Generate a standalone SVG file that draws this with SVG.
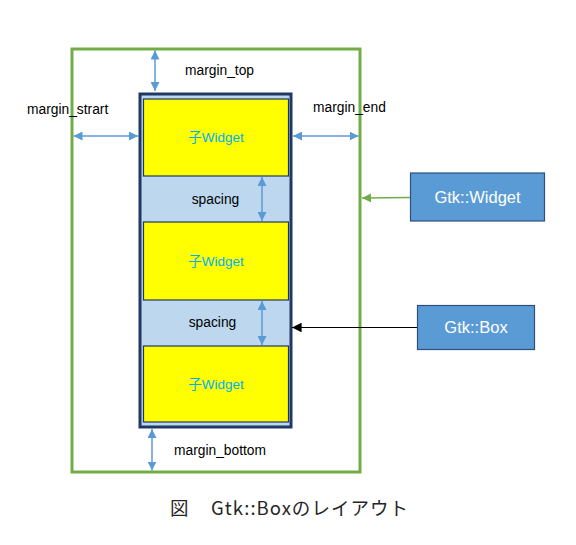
<svg xmlns="http://www.w3.org/2000/svg" width="576" height="545" viewBox="0 0 576 545">
<style>
.lbl{font-family:"Liberation Sans","Noto Sans CJK JP",sans-serif;font-size:13.8px;fill:#000}
.child{fill:#FFFF00;stroke:#203864;stroke-width:1.2}
.ctext{font-family:"Liberation Sans","Noto Sans CJK JP",sans-serif;font-size:13.5px;fill:#00B0F0;text-anchor:middle}
.cls{fill:#5B9BD5;stroke:#2F4F7F;stroke-width:1.2}
.clstext{font-family:"Liberation Sans",sans-serif;font-size:16.5px;fill:#fff;text-anchor:middle}
.dim{stroke:#5B9BD5;stroke-width:1.5;fill:none;marker-start:url(#ab);marker-end:url(#ab)}
.cap{font-family:"Noto Sans CJK JP",sans-serif;font-size:18.5px;fill:#262626}
</style>
<defs>
<marker id="ab" viewBox="0 0 10 10" refX="10" refY="5" markerWidth="6" markerHeight="6" orient="auto-start-reverse" markerUnits="strokeWidth">
<path d="M0,0 L10,5 L0,10 z" fill="#5B9BD5"/>
</marker>
<marker id="ag" viewBox="0 0 10 10" refX="10" refY="5" markerWidth="6" markerHeight="6" orient="auto" markerUnits="strokeWidth">
<path d="M0,0 L10,5 L0,10 z" fill="#70AD47"/>
</marker>
<marker id="ak" viewBox="0 0 10 10" refX="10" refY="5" markerWidth="8" markerHeight="8" orient="auto" markerUnits="strokeWidth">
<path d="M0,0 L10,5 L0,10 z" fill="#000"/>
</marker>
</defs>
<rect width="576" height="545" fill="#fff"/>
<g id="widget-outer">
<rect x="72" y="49" width="288" height="423" fill="none" stroke="#70AD47" stroke-width="3"/>
</g>
<g id="box">
<rect x="140" y="94" width="151" height="333" fill="#BDD7EE" stroke="#203864" stroke-width="3"/>
</g>
<g id="child1">
<rect class="child" x="143.5" y="99" width="145" height="77"/>
<text class="ctext" x="216" y="142">子Widget</text>
</g>
<g id="child2">
<rect class="child" x="143.5" y="222" width="145" height="78"/>
<text class="ctext" x="216" y="266">子Widget</text>
</g>
<g id="child3">
<rect class="child" x="143.5" y="346" width="145" height="76"/>
<text class="ctext" x="216" y="389">子Widget</text>
</g>
<g id="gtk-widget">
<rect class="cls" x="410.5" y="173" width="134" height="48"/>
<text class="clstext" x="477.5" y="203">Gtk::Widget</text>
</g>
<g id="gtk-box">
<rect class="cls" x="417.5" y="305.5" width="117" height="44"/>
<text class="clstext" x="476" y="333">Gtk::Box</text>
</g>
<g id="connectors">
<line class="dim" x1="155" y1="50.5" x2="155" y2="91"/>
<line class="dim" x1="73.5" y1="136" x2="138" y2="136"/>
<line class="dim" x1="293" y1="136" x2="358.5" y2="136"/>
<line class="dim" x1="262" y1="177" x2="262" y2="221"/>
<line class="dim" x1="262" y1="301" x2="262" y2="345"/>
<line class="dim" x1="152" y1="429" x2="152" y2="470.5"/>
<line x1="410" y1="197.5" x2="362" y2="198" stroke="#70AD47" stroke-width="1.5" marker-end="url(#ag)"/>
<line x1="417" y1="327.5" x2="292" y2="327.5" stroke="#000" stroke-width="1.2" marker-end="url(#ak)"/>
</g>
<g id="labels">
<text class="lbl" x="185" y="75">margin_top</text>
<text class="lbl" x="27" y="114">margin_strart</text>
<text class="lbl" x="313" y="112">margin_end</text>
<text class="lbl" x="215.5" y="204" text-anchor="middle">spacing</text>
<text class="lbl" x="212.5" y="327" text-anchor="middle">spacing</text>
<text class="lbl" x="174" y="455">margin_bottom</text>
</g>
<g id="caption">
<text class="cap" x="170" y="515">図</text>
<text class="cap" x="211" y="515" textLength="197" lengthAdjust="spacing">Gtk::Boxのレイアウト</text>
</g>
</svg>
